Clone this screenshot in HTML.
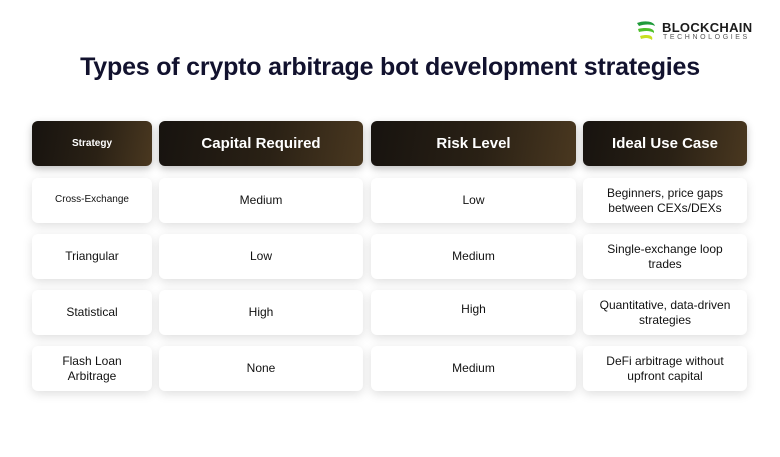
<!DOCTYPE html>
<html><head><style>
body{margin:0;width:780px;height:457px;background:#fff;font-family:"Liberation Sans",sans-serif;position:relative;overflow:hidden}
.t{position:absolute;left:0;width:780px;top:53px;text-align:center;font-size:25px;font-weight:bold;color:#12122e;letter-spacing:-0.2px}
.c{position:absolute;display:flex;align-items:center;justify-content:center;text-align:center;border-radius:6px;box-sizing:border-box;padding:0 4px;line-height:15px}
.h{background:linear-gradient(100deg,#17130f 0%,#2a2115 55%,#4a3820 100%);color:#fff;font-weight:bold;font-size:15px;box-shadow:0 3px 8px rgba(0,0,0,.25)}
.w{background:#fff;color:#111;font-size:12px;box-shadow:0 3px 10px rgba(0,0,0,.13)}
.n{padding:0 14px}
</style></head><body>
<svg style="position:absolute;left:634px;top:20px" width="24" height="22" viewBox="0 0 24 22">
<path d="M3 3 C10 0 20 1 21 6 C18 4 10 4 5 6Z" fill="#1f9a3a"/>
<path d="M4 9 C12 7 21 8 20 13 C16 10 9 11 5 12Z" fill="#4fbf2a"/>
<path d="M6 16 C13 14 20 15 18 20 C14 17 10 18 7 19Z" fill="#c8e020"/>
</svg>
<div style="position:absolute;left:662px;top:20px;font-size:13px;font-weight:bold;color:#1b1b1b;letter-spacing:0.3px">BLOCKCHAIN</div>
<div style="position:absolute;left:663px;top:34px;font-size:7px;color:#555;letter-spacing:2.6px">TECHNOLOGIES</div>
<div class="t">Types of crypto arbitrage bot development strategies</div>

<div class="c h" style="left:32px;top:121px;width:120px;height:45px;font-size:10px">Strategy</div>
<div class="c h" style="left:159px;top:121px;width:204px;height:45px">Capital Required</div>
<div class="c h" style="left:371px;top:121px;width:205px;height:45px">Risk Level</div>
<div class="c h" style="left:583px;top:121px;width:164px;height:45px">Ideal Use Case</div>

<div class="c w" style="left:32px;top:178px;width:120px;height:45px;font-size:10px;align-items:flex-start;padding-top:14px">Cross-Exchange</div>
<div class="c w" style="left:159px;top:178px;width:204px;height:45px">Medium</div>
<div class="c w" style="left:371px;top:178px;width:205px;height:45px">Low</div>
<div class="c w n" style="left:583px;top:178px;width:164px;height:45px">Beginners, price gaps between CEXs/DEXs</div>

<div class="c w" style="left:32px;top:234px;width:120px;height:45px">Triangular</div>
<div class="c w" style="left:159px;top:234px;width:204px;height:45px">Low</div>
<div class="c w" style="left:371px;top:234px;width:205px;height:45px">Medium</div>
<div class="c w n" style="left:583px;top:234px;width:164px;height:45px;padding:0 18px">Single-exchange loop trades</div>

<div class="c w" style="left:32px;top:290px;width:120px;height:45px">Statistical</div>
<div class="c w" style="left:159px;top:290px;width:204px;height:45px">High</div>
<div class="c w" style="left:371px;top:290px;width:205px;height:45px;align-items:flex-start;padding-top:12px">High</div>
<div class="c w n" style="left:583px;top:290px;width:164px;height:45px">Quantitative, data-driven strategies</div>

<div class="c w" style="left:32px;top:346px;width:120px;height:45px;padding:0 22px">Flash Loan Arbitrage</div>
<div class="c w" style="left:159px;top:346px;width:204px;height:45px">None</div>
<div class="c w" style="left:371px;top:346px;width:205px;height:45px">Medium</div>
<div class="c w n" style="left:583px;top:346px;width:164px;height:45px">DeFi arbitrage without upfront capital</div>
</body></html>
